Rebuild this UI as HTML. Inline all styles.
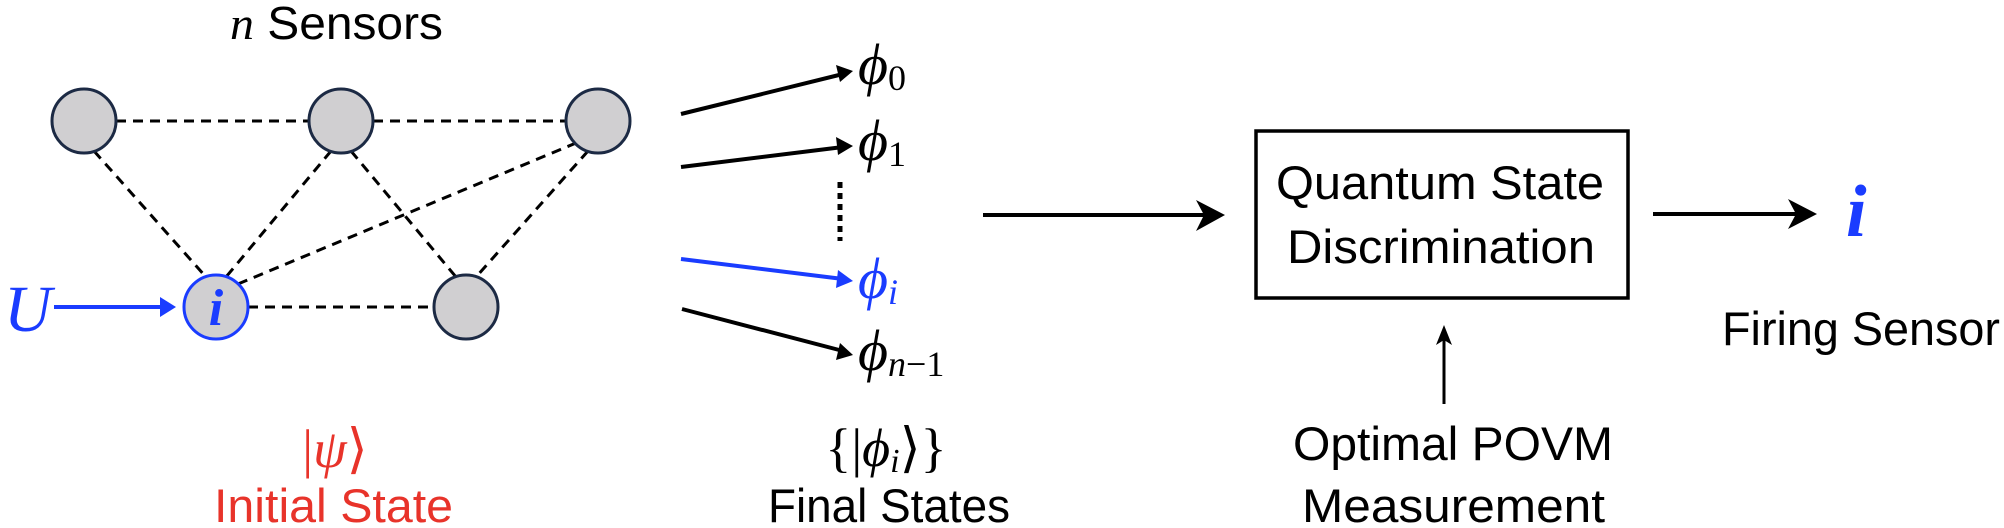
<!DOCTYPE html>
<html><head><meta charset="utf-8"><style>html,body{margin:0;padding:0;background:#fff;}svg{display:block;}</style></head>
<body>
<svg width="2004" height="528" viewBox="0 0 2004 528" xmlns="http://www.w3.org/2000/svg" font-family="Liberation Sans, sans-serif">
<g>
<g stroke="#000" stroke-width="3" stroke-dasharray="10,7" fill="none">
<line x1="116" y1="121" x2="309" y2="121"/>
<line x1="373" y1="121" x2="566" y2="121"/>
<line x1="248" y1="307" x2="434" y2="307"/>
<line x1="94" y1="151" x2="206" y2="277"/>
<line x1="331" y1="151" x2="226" y2="277"/>
<line x1="351" y1="151" x2="456" y2="277"/>
<line x1="588" y1="151" x2="476" y2="277"/>
<line x1="238" y1="284" x2="576" y2="143"/>
</g>
<circle cx="84" cy="121" r="32" fill="#d0cfd1" stroke="#1c2a44" stroke-width="3"/>
<circle cx="341" cy="121" r="32" fill="#d0cfd1" stroke="#1c2a44" stroke-width="3"/>
<circle cx="598" cy="121" r="32" fill="#d0cfd1" stroke="#1c2a44" stroke-width="3"/>
<circle cx="216" cy="307" r="32" fill="#d0cfd1" stroke="#1a3cff" stroke-width="3"/>
<circle cx="466" cy="307" r="32" fill="#d0cfd1" stroke="#1c2a44" stroke-width="3"/>
<text x="216" y="325" text-anchor="middle" font-family="Liberation Serif, serif" font-style="italic" font-weight="bold" font-size="52" fill="#1a3cff">i</text>
</g>
<text x="230" y="39" font-size="46" textLength="213" lengthAdjust="spacingAndGlyphs"><tspan font-family="Liberation Serif, serif" font-style="italic">n</tspan> Sensors</text>
<text x="4" y="331" font-family="Liberation Serif, serif" font-style="italic" font-size="66" fill="#1a3cff">U</text>
<g stroke="#1a3cff" fill="#1a3cff">
<line x1="54" y1="307" x2="165" y2="307" stroke-width="4"/>
<polygon points="176,307 160,297 160,317" stroke="none"/>
</g>
<g stroke-width="4">
<line x1="681" y1="114" x2="843" y2="74" stroke="#000"/>
<polygon points="853,71 836,65 840,82" fill="#000"/>
<line x1="681" y1="167" x2="843" y2="147" stroke="#000"/>
<polygon points="853,146 836,137 838,155" fill="#000"/>
<line x1="681" y1="259" x2="843" y2="279" stroke="#1a3cff"/>
<polygon points="853,281 838,270 836,288" fill="#1a3cff"/>
<line x1="682" y1="309" x2="843" y2="351" stroke="#000"/>
<polygon points="853,355 840,343 836,360" fill="#000"/>
<line x1="840" y1="182" x2="840" y2="241" stroke="#000" stroke-width="5" stroke-dasharray="6,5"/>
</g>
<g font-family="Liberation Serif, serif" font-style="italic" font-size="58">
<text x="858" y="84">ϕ<tspan font-size="36" font-style="normal" dy="6">0</tspan></text>
<text x="858" y="160">ϕ<tspan font-size="36" font-style="normal" dy="6">1</tspan></text>
<text x="858" y="298" fill="#1a3cff">ϕ<tspan font-size="36" dy="6">i</tspan></text>
<text x="858" y="370">ϕ<tspan font-size="36" dy="6">n</tspan><tspan font-size="36" font-style="normal">−1</tspan></text>
</g>
<text x="335" y="467" text-anchor="middle" font-family="Liberation Serif, serif" font-size="54" fill="#e8332a">|<tspan font-style="italic">ψ</tspan>⟩</text>
<text x="214" y="522" font-size="47" fill="#e8332a" textLength="239" lengthAdjust="spacingAndGlyphs">Initial State</text>
<text x="886" y="466" text-anchor="middle" font-family="Liberation Serif, serif" font-size="54">{|<tspan font-style="italic">ϕ</tspan><tspan font-style="italic" font-size="34" dy="6">i</tspan><tspan dy="-6">⟩}</tspan></text>
<text x="768" y="522" font-size="47" textLength="242" lengthAdjust="spacingAndGlyphs">Final States</text>
<g>
<line x1="983" y1="215" x2="1215" y2="215" stroke="#000" stroke-width="4"/>
<polygon points="1225,215 1196,200 1204,215 1196,231" fill="#000"/>
</g>
<rect x="1256" y="131" width="372" height="167" fill="#fff" stroke="#000" stroke-width="3.5"/>
<text x="1276" y="199" font-size="47" textLength="328" lengthAdjust="spacingAndGlyphs">Quantum State</text>
<text x="1287" y="263" font-size="47" textLength="308" lengthAdjust="spacingAndGlyphs">Discrimination</text>
<g>
<line x1="1653" y1="214" x2="1808" y2="214" stroke="#000" stroke-width="4"/>
<polygon points="1817,214 1788,199 1796,214 1788,229" fill="#000"/>
</g>
<text x="1846" y="236" font-family="Liberation Serif, serif" font-style="italic" font-weight="bold" font-size="74" fill="#1a3cff">i</text>
<text x="1722" y="345" font-size="47" textLength="278" lengthAdjust="spacingAndGlyphs">Firing Sensor</text>
<g>
<line x1="1444" y1="404" x2="1444" y2="335" stroke="#000" stroke-width="3"/>
<polygon points="1444,325 1436,345 1444,340 1452,345" fill="#000"/>
</g>
<text x="1293" y="460" font-size="47" textLength="320" lengthAdjust="spacingAndGlyphs">Optimal POVM</text>
<text x="1302" y="522" font-size="47" textLength="303" lengthAdjust="spacingAndGlyphs">Measurement</text>
</svg>
</body></html>
